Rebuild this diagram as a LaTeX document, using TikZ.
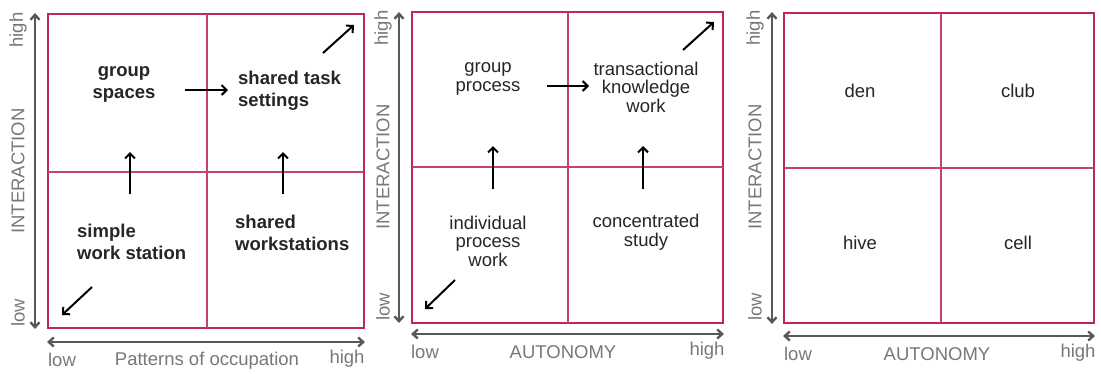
\documentclass[tikz,border=0pt]{standalone}
\usepackage{fontspec}
\setmainfont{Liberation Sans}
\usetikzlibrary{arrows.meta}
\definecolor{boxred}{HTML}{BC2A52}
\definecolor{innerred}{HTML}{C44468}
\definecolor{axisgray}{HTML}{585858}
\definecolor{labelgray}{HTML}{787878}
\definecolor{txt}{HTML}{262626}
\tikzset{
  frame/.style={draw=boxred, line width=2.8pt},
  divider/.style={draw=innerred, line width=1.2pt},
  axis/.style={draw=axisgray, line width=2.4pt, {Straight Barb[length=5pt,width=9pt]}-{Straight Barb[length=5pt,width=9pt]}},
  flow/.style={draw=black, line width=2pt, -{Straight Barb[length=5pt,width=10pt]}},
  axlabel/.style={text=labelgray, font=\fontsize{18.5}{19}\selectfont, inner sep=0pt},
  quadb/.style={text=txt, font=\fontsize{18.5}{22}\selectfont\bfseries, align=left, inner sep=0pt},
  quad/.style={text=txt, font=\fontsize{18.5}{18.5}\selectfont, align=center, inner sep=0pt},
}
\begin{document}
\begin{tikzpicture}[x=1pt,y=-1pt]
\useasboundingbox (0,0) rectangle (1101,373);
\fill[white] (0,0) rectangle (1101,373);

% ===== Panel 1 =====
\draw[frame] (48,14) rectangle (364,328);
\draw[divider] (207,14) -- (207,328);
\draw[divider] (48,172) -- (364,172);
\coordinate (p1vt) at (35,13); \coordinate (p1vb) at (35,329);
\draw[axis] (p1vb) -- (p1vt);
\coordinate (p1hl) at (47,342); \coordinate (p1hr) at (365,342);
\draw[axis] (p1hl) -- (p1hr);
\node[axlabel, rotate=90] (p1high) at (18,30) {high};
\node[axlabel, rotate=90] (p1int) at (18,171) {INTERACTION};
\node[axlabel, rotate=90] (p1low) at (18,313) {low};
\node[axlabel] (p1xlow) at (62,360) {low};
\node[axlabel] (p1xlab) at (207,361) {Patterns of occupation};
\node[axlabel] (p1xhigh) at (347,359) {high};

\node[quadb, align=center] (gs) at (124,84) {group\\spaces};
\node[quadb, anchor=west] (sts) at (238,91) {shared task\\settings};
\node[quadb, anchor=west] (sws) at (77,242) {simple\\work station};
\node[quadb, anchor=west] (shw) at (235,233) {shared\\workstations};
\coordinate (a1s) at (185,90); \coordinate (a1e) at (228,90);
\draw[flow] (a1s) -- (a1e);
\coordinate (a2s) at (130,194); \coordinate (a2e) at (130,152);
\draw[flow] (a2s) -- (a2e);
\coordinate (a3s) at (283,194); \coordinate (a3e) at (283,152);
\draw[flow] (a3s) -- (a3e);
\coordinate (a4s) at (323,53); \coordinate (a4e) at (354,25);
\draw[flow] (a4s) -- (a4e);
\coordinate (a5s) at (92,287); \coordinate (a5e) at (62,315);
\draw[flow] (a5s) -- (a5e);

% ===== Panel 2 =====
\draw[frame] (412,12) rectangle (723,323);
\draw[divider] (568,12) -- (568,323);
\draw[divider] (412,167) -- (723,167);
\coordinate (p2vt) at (399,12); \coordinate (p2vb) at (399,323);
\draw[axis] (p2vb) -- (p2vt);
\coordinate (p2hl) at (411,334); \coordinate (p2hr) at (724,334);
\draw[axis] (p2hl) -- (p2hr);
\node[axlabel, rotate=90] (p2high) at (383,28) {high};
\node[axlabel, rotate=90] (p2int) at (383,167) {INTERACTION};
\node[axlabel, rotate=90] (p2low) at (383,307) {low};
\node[axlabel] (p2xlow) at (425,352) {low};
\node[axlabel] (p2xlab) at (563,352) {AUTONOMY};
\node[axlabel] (p2xhigh) at (707,351) {high};

\node[quad] (gp) at (488,79) {group\\process};
\node[quad] (tkw) at (646,87) {transactional\\knowledge\\work};
\node[quad] (ipw) at (488,241) {individual\\process\\work};
\node[quad] (cs) at (646,232) {concentrated\\study};
\coordinate (b1s) at (547,86); \coordinate (b1e) at (589,86);
\draw[flow] (b1s) -- (b1e);
\coordinate (b2s) at (493,189); \coordinate (b2e) at (493,146);
\draw[flow] (b2s) -- (b2e);
\coordinate (b3s) at (643,189); \coordinate (b3e) at (643,146);
\draw[flow] (b3s) -- (b3e);
\coordinate (b4s) at (683,50); \coordinate (b4e) at (714,22);
\draw[flow] (b4s) -- (b4e);
\coordinate (b5s) at (455,280); \coordinate (b5e) at (425,309);
\draw[flow] (b5s) -- (b5e);

% ===== Panel 3 =====
\draw[frame] (784,13) rectangle (1094,323);
\draw[divider] (941,13) -- (941,323);
\draw[divider] (784,168) -- (1094,168);
\coordinate (p3vt) at (772,12); \coordinate (p3vb) at (772,324);
\draw[axis] (p3vb) -- (p3vt);
\coordinate (p3hl) at (783,336); \coordinate (p3hr) at (1095,336);
\draw[axis] (p3hl) -- (p3hr);
\node[axlabel, rotate=90] (p3high) at (755,28) {high};
\node[axlabel, rotate=90] (p3int) at (755,167) {INTERACTION};
\node[axlabel, rotate=90] (p3low) at (755,307) {low};
\node[axlabel] (p3xlow) at (798,354) {low};
\node[axlabel] (p3xlab) at (937,354) {AUTONOMY};
\node[axlabel] (p3xhigh) at (1078,353) {high};

\node[quad] (den) at (860,91) {den};
\node[quad] (club) at (1018,91) {club};
\node[quad] (hive) at (860,243) {hive};
\node[quad] (cell) at (1018,243) {cell};
\end{tikzpicture}
\end{document}
